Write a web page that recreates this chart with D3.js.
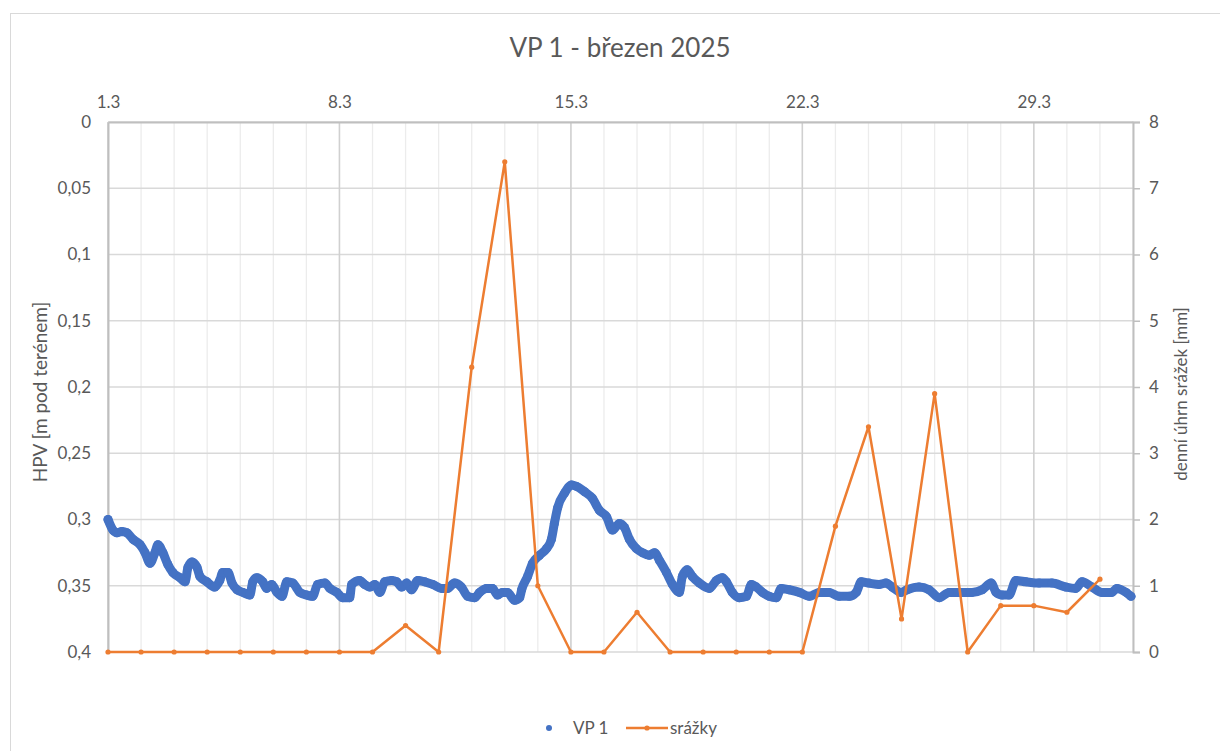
<!DOCTYPE html>
<html>
<head>
<meta charset="utf-8">
<script src="https://cdn.jsdelivr.net/npm/d3@7"></script>
<style>
  html, body { margin: 0; padding: 0; background: #ffffff; }
  svg { display: block; font-family: Lato, "Open Sans", sans-serif; }
</style>
</head>
<body>
<svg id="chart" width="1220" height="751"></svg>
<script>
// ---- data ----
const chartTitle = "VP 1 - březen 2025";
const leftAxisTitle = "HPV [m pod terénem]";
const rightAxisTitle = "denní úhrn srážek [mm]";

// day ticks (offset in days from 1.3.)
const dayTickValues = [0, 7, 14, 21, 28];
const dayTickLabels = ["1.3", "8.3", "15.3", "22.3", "29.3"];

const depthTickValues = [0, 0.05, 0.1, 0.15, 0.2, 0.25, 0.3, 0.35, 0.4];
const depthTickLabels = ["0", "0,05", "0,1", "0,15", "0,2", "0,25", "0,3", "0,35", "0,4"];

const rainTickValues = [0, 1, 2, 3, 4, 5, 6, 7, 8];

// VP 1 groundwater level (day offset, depth in m below terrain)
const hpvDay = [0.00,0.15,0.27,0.42,0.57,0.76,0.97,1.12,1.27,1.42,1.51,1.66,1.81,1.96,2.18,2.33,2.42,2.54,2.69,2.78,
  2.99,3.23,3.38,3.47,3.63,3.75,3.90,4.08,4.29,4.38,4.50,4.68,4.80,4.95,5.11,5.26,5.41,5.59,5.80,6.01,
  6.19,6.34,6.56,6.71,6.92,7.10,7.31,7.37,7.61,7.76,7.92,8.07,8.22,8.37,8.58,8.73,8.88,9.03,9.18,9.37,
  9.58,9.82,10.09,10.27,10.48,10.69,10.88,11.09,11.24,11.45,11.63,11.78,11.93,12.08,12.30,12.45,12.51,12.69,12.84,13.05,
  13.26,13.41,13.50,13.60,13.81,14.02,14.17,14.41,14.65,14.86,15.08,15.26,15.47,15.62,15.77,15.98,16.16,16.37,16.53,16.68,
  16.89,17.07,17.28,17.37,17.52,17.67,17.89,18.19,18.40,18.58,18.70,18.88,19.09,19.31,19.46,19.61,19.79,20.00,20.21,20.36,
  20.60,20.91,21.21,21.51,21.81,22.11,22.42,22.63,22.78,23.02,23.32,23.53,23.72,23.99,24.17,24.53,24.83,25.14,25.44,25.83,
  26.13,26.44,26.71,26.86,27.04,27.25,27.46,27.76,28.16,28.55,28.97,29.27,29.46,29.76,30.06,30.36,30.51,30.79,30.94];
const hpvDepth = [0.300,0.308,0.310,0.309,0.310,0.315,0.319,0.325,0.333,0.325,0.319,0.325,0.334,0.340,0.344,0.347,0.336,0.332,0.336,0.343,
  0.347,0.351,0.346,0.340,0.340,0.348,0.353,0.355,0.357,0.347,0.344,0.347,0.352,0.349,0.355,0.358,0.347,0.348,0.355,0.357,
  0.358,0.349,0.348,0.352,0.355,0.359,0.359,0.349,0.346,0.349,0.351,0.349,0.355,0.347,0.346,0.347,0.351,0.348,0.353,0.346,
  0.347,0.349,0.352,0.352,0.348,0.351,0.358,0.359,0.355,0.352,0.352,0.357,0.355,0.355,0.361,0.359,0.353,0.343,0.333,0.327,
  0.322,0.315,0.303,0.291,0.280,0.274,0.275,0.279,0.284,0.293,0.298,0.308,0.303,0.306,0.315,0.322,0.325,0.327,0.325,0.331,
  0.340,0.349,0.355,0.343,0.338,0.343,0.348,0.352,0.346,0.344,0.347,0.355,0.359,0.358,0.349,0.351,0.355,0.358,0.359,0.352,
  0.353,0.355,0.358,0.355,0.355,0.358,0.358,0.355,0.347,0.348,0.349,0.348,0.351,0.355,0.353,0.351,0.353,0.359,0.355,0.355,
  0.355,0.353,0.348,0.355,0.357,0.357,0.346,0.347,0.348,0.348,0.351,0.352,0.347,0.351,0.355,0.355,0.352,0.355,0.358];

// daily precipitation (mm), one value per day 1.3 .. 31.3
const rainDay = [0,1,2,3,4,5,6,7,8,9,10,11,12,13,14,15,16,17,18,19,20,21,22,23,24,25,26,27,28,29,30];
const rainMm  = [0,0,0,0,0,0,0,0,0,0.4,0,4.3,7.4,1.0,0,0,0.6,0,0,0,0,0,1.9,3.4,0.5,3.9,0,0.7,0.7,0.6,1.1];

const legendLabels = ["VP 1", "srážky"];

// ---- drawing ----
const svg = d3.select("#chart");
const plot = { left: 108, right: 1133, top: 122, bottom: 652 };
const textColor = "#595959";
const blue = "#4472C4", orange = "#ED7D31";

// chart area border
svg.append("rect").attr("x", 10.5).attr("y", 13.5).attr("width", 1240).attr("height", 800)
  .attr("fill", "#fff").attr("stroke", "#d9d9d9").attr("stroke-width", 1);

const x = d3.scaleLinear().domain([0, 31]).range([plot.left, plot.right]);
const yL = d3.scaleLinear().domain([0, 0.4]).range([plot.top, plot.bottom]);
const yR = d3.scaleLinear().domain([0, 8]).range([plot.bottom, plot.top]);

const grid = svg.append("g");
// minor daily vertical gridlines
grid.selectAll("line.minor").data(d3.range(0, 32)).enter().append("line")
  .attr("x1", d => x(d)).attr("x2", d => x(d))
  .attr("y1", plot.top).attr("y2", plot.bottom)
  .attr("stroke", "#ececec").attr("stroke-width", 1.3);
// horizontal gridlines
grid.selectAll("line.h").data(depthTickValues).enter().append("line")
  .attr("x1", plot.left).attr("x2", plot.right)
  .attr("y1", d => yL(d)).attr("y2", d => yL(d))
  .attr("stroke", "#d9d9d9").attr("stroke-width", 1.5);
// major vertical gridlines
grid.selectAll("line.major").data(dayTickValues).enter().append("line")
  .attr("x1", d => x(d)).attr("x2", d => x(d))
  .attr("y1", plot.top).attr("y2", plot.bottom)
  .attr("stroke", "#d0d0d0").attr("stroke-width", 1.5);

// axes
const topAxis = d3.axisTop(x).tickValues(dayTickValues)
  .tickFormat((d, i) => dayTickLabels[i]).tickSize(0).tickPadding(14);
const gTop = svg.append("g").attr("transform", `translate(0,${plot.top})`).call(topAxis);

const leftAxis = d3.axisLeft(yL).tickValues(depthTickValues)
  .tickFormat((d, i) => depthTickLabels[i]).tickSize(0).tickPadding(17);
const gLeft = svg.append("g").attr("transform", `translate(${plot.left},0)`).call(leftAxis);

const rightAxis = d3.axisRight(yR).tickValues(rainTickValues)
  .tickFormat(d3.format("d")).tickSize(7).tickPadding(9);
const gRight = svg.append("g").attr("transform", `translate(${plot.right},0)`).call(rightAxis);

[gTop, gLeft, gRight].forEach(g => {
  g.select(".domain").attr("stroke", "#bfbfbf").attr("stroke-width", 2);
  g.selectAll(".tick line").attr("stroke", "#bfbfbf").attr("stroke-width", 1.5);
  g.selectAll(".tick text").attr("fill", textColor).attr("font-size", 17)
    .attr("font-family", "Lato, 'Open Sans', sans-serif");
});

// title
svg.append("text").attr("x", 620).attr("y", 57).attr("text-anchor", "middle")
  .attr("fill", textColor).attr("font-size", 26).text(chartTitle);

// axis titles
svg.append("text").attr("transform", `translate(47,392) rotate(-90)`)
  .attr("text-anchor", "middle").attr("fill", textColor).attr("font-size", 19).text(leftAxisTitle);
svg.append("text").attr("transform", `translate(1187,394) rotate(-90)`)
  .attr("text-anchor", "middle").attr("fill", textColor).attr("font-size", 17).text(rightAxisTitle);

// VP 1 series (dense markers)
const hpvData = hpvDay.map((d, i) => ({ d, v: hpvDepth[i] }));
svg.append("path").datum(hpvData)
  .attr("d", d3.line().x(p => x(p.d)).y(p => yL(p.v)).curve(d3.curveMonotoneX))
  .attr("fill", "none").attr("stroke", blue).attr("stroke-width", 9)
  .attr("stroke-linejoin", "round").attr("stroke-linecap", "round");
svg.append("g").selectAll("circle").data(hpvData).enter().append("circle")
  .attr("cx", p => x(p.d)).attr("cy", p => yL(p.v)).attr("r", 4.5).attr("fill", blue);

// precipitation series
const rainData = rainDay.map((d, i) => ({ d, v: rainMm[i] }));
svg.append("path").datum(rainData)
  .attr("d", d3.line().x(p => x(p.d)).y(p => yR(p.v)))
  .attr("fill", "none").attr("stroke", orange).attr("stroke-width", 2.5)
  .attr("stroke-linejoin", "round");
svg.append("g").selectAll("circle").data(rainData).enter().append("circle")
  .attr("cx", p => x(p.d)).attr("cy", p => yR(p.v)).attr("r", 2.6).attr("fill", orange);

// legend
const lg = svg.append("g");
lg.append("circle").attr("cx", 549).attr("cy", 728).attr("r", 3).attr("fill", blue);
lg.append("text").attr("x", 573).attr("y", 734).attr("fill", textColor).attr("font-size", 17).text(legendLabels[0]);
lg.append("line").attr("x1", 626).attr("x2", 668).attr("y1", 728).attr("y2", 728)
  .attr("stroke", orange).attr("stroke-width", 2.5);
lg.append("circle").attr("cx", 647).attr("cy", 728).attr("r", 2.6).attr("fill", orange);
lg.append("text").attr("x", 670).attr("y", 734).attr("fill", textColor).attr("font-size", 17).text(legendLabels[1]);
</script>
</body>
</html>
